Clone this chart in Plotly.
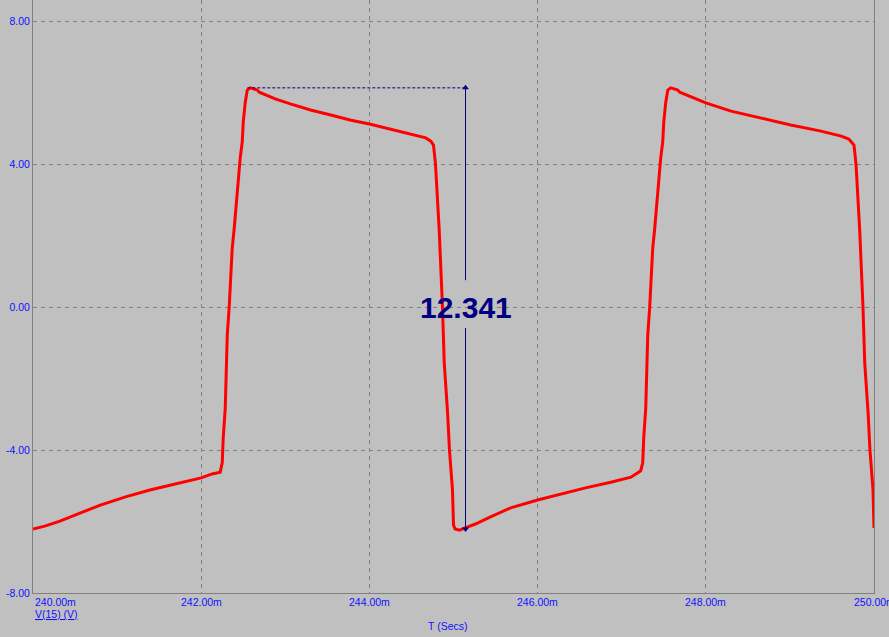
import plotly.graph_objects as go

# ---- data (time in ms, voltage in V) ----
t_ms = [240.00, 240.14, 240.32, 240.56, 240.80, 241.10, 241.39, 241.69, 242.00, 242.13,
        242.226, 242.25, 242.262, 242.286, 242.298, 242.31, 242.333, 242.357, 242.369,
        242.393, 242.417, 242.44, 242.464, 242.488, 242.50, 242.524, 242.548, 242.583,
        242.667, 242.69, 242.88, 243.06, 243.30, 243.54, 243.77, 244.00, 244.25, 244.49,
        244.67, 244.73, 244.762, 244.786, 244.81, 244.83, 244.869, 244.89, 244.93, 244.952,
        244.988, 245.00, 245.02, 245.07, 245.14, 245.26, 245.44, 245.68, 246.00, 246.27,
        246.57, 246.87, 247.11, 247.20,
        247.226, 247.25, 247.262, 247.286, 247.298, 247.31, 247.333, 247.357, 247.369,
        247.393, 247.417, 247.44, 247.464, 247.488, 247.50, 247.524, 247.548, 247.583,
        247.667, 247.69, 247.88, 248.00, 248.30, 248.65, 249.01, 249.37, 249.61, 249.70,
        249.762, 249.786, 249.81, 249.83, 249.869, 249.89, 249.93, 249.952, 249.988, 250.00]
v_volts = [-6.21, -6.13, -5.99, -5.76, -5.54, -5.31, -5.12, -4.95, -4.78, -4.67,
           -4.62, -4.36, -3.66, -2.83, -1.90, -0.78, 0.00, 0.90, 1.65,
           2.21, 2.94, 3.69, 4.17, 4.62, 5.17, 5.73, 6.07, 6.13,
           6.07, 6.01, 5.82, 5.68, 5.51, 5.37, 5.23, 5.12, 4.98, 4.84,
           4.73, 4.64, 4.53, 4.00, 3.08, 2.15, 0.00, -1.57, -2.97, -4.00,
           -5.12, -6.10, -6.21, -6.24, -6.18, -6.07, -5.87, -5.62, -5.40, -5.23,
           -5.06, -4.90, -4.76, -4.62,
           -4.58, -4.36, -3.66, -2.83, -1.90, -0.78, 0.00, 0.90, 1.65,
           2.21, 2.94, 3.69, 4.17, 4.62, 5.17, 5.73, 6.07, 6.13,
           6.07, 6.01, 5.82, 5.71, 5.48, 5.29, 5.09, 4.92, 4.78, 4.70,
           4.53, 4.00, 3.08, 2.15, 0.00, -1.57, -2.97, -4.00, -5.12, -6.18]

y_ticks = [-8, -4, 0, 4, 8]
y_tick_text = ["-8.00", "-4.00", "0.00", "4.00", "8.00"]
x_ticks = [240, 242, 244, 246, 248, 250]
x_tick_text = ["240.00m", "242.00m", "244.00m", "246.00m", "248.00m", "250.00m"]

trace_name = "V(15) (V)"
x_title = "T (Secs)"

# measurement cursor
meas_t_start = 242.548
meas_t = 245.143
meas_top = 6.13
meas_bottom = -6.211
meas_label = "12.341"
meas_gap = (-0.59, 0.75)

BG = "#C0C0C0"
GRID = "#808080"
NAVY = "#000080"
BLUE = "#1010FF"
FONT = "Liberation Sans, Arial, sans-serif"

fig = go.Figure()
fig.add_trace(go.Scatter(x=t_ms, y=v_volts, mode="lines",
                         line=dict(color="#FF0000", width=3), name=trace_name,
                         hoverinfo="skip", showlegend=False))

# arrowheads
fig.add_trace(go.Scatter(x=[meas_t], y=[meas_top], mode="markers",
                         marker=dict(symbol="triangle-up", size=6, color=NAVY),
                         showlegend=False, hoverinfo="skip"))
fig.add_trace(go.Scatter(x=[meas_t], y=[meas_bottom], mode="markers",
                         marker=dict(symbol="triangle-down", size=6, color=NAVY),
                         showlegend=False, hoverinfo="skip"))

# measurement lines
fig.add_shape(type="line", xref="x", yref="y", x0=meas_t_start, x1=meas_t,
              y0=meas_top, y1=meas_top, line=dict(color=NAVY, width=1, dash="3px,2px"))
fig.add_shape(type="line", xref="x", yref="y", x0=meas_t, x1=meas_t,
              y0=meas_gap[1], y1=meas_top, line=dict(color=NAVY, width=1))
fig.add_shape(type="line", xref="x", yref="y", x0=meas_t, x1=meas_t,
              y0=meas_bottom, y1=meas_gap[0], line=dict(color=NAVY, width=1))

annotations = [
    dict(x=meas_t, y=0, xref="x", yref="y", text="<b>%s</b>" % meas_label,
         showarrow=False, font=dict(family=FONT, size=30, color=NAVY),
         xanchor="center", yanchor="middle"),
]
for tv, tt in zip(x_ticks, x_tick_text):
    annotations.append(dict(x=tv, y=0, xref="x", yref="paper", text=tt, showarrow=False,
                            xanchor="left" if tv == x_ticks[0] else "center",
                            yanchor="top", yshift=-1,
                            font=dict(family=FONT, size=10.5, color=BLUE)))
annotations.append(dict(x=0, y=0, xref="paper", yref="paper", text="<u>%s</u>" % trace_name,
                        showarrow=False, xanchor="left", yanchor="middle", yshift=-21,
                        font=dict(family=FONT, size=10.5, color=BLUE)))
annotations.append(dict(x=(447 - 33) / 841, y=0, xref="paper", yref="paper", text=x_title,
                        showarrow=False, xanchor="center", yanchor="middle", yshift=-33,
                        font=dict(family=FONT, size=10.5, color=BLUE)))

fig.update_layout(
    width=889, height=637,
    margin=dict(l=33, r=15, t=0, b=44, pad=0, autoexpand=False),
    paper_bgcolor=BG, plot_bgcolor=BG,
    showlegend=False,
    annotations=annotations,
    xaxis=dict(range=[240, 250], tickvals=x_ticks, showticklabels=False, ticks="",
               showgrid=True, gridcolor=GRID, gridwidth=1, griddash="4px,4px",
               showline=True, linecolor=GRID, linewidth=1, zeroline=False,
               fixedrange=True, automargin=False),
    yaxis=dict(range=[-8, 8 + 21 / 35.75], tickvals=y_ticks, ticktext=y_tick_text,
               ticks="", tickfont=dict(family=FONT, size=10.5, color=BLUE),
               showgrid=True, gridcolor=GRID, gridwidth=1, griddash="4px,4px",
               showline=True, linecolor=GRID, linewidth=1, mirror=True,
               zeroline=False, fixedrange=True, automargin=False),
)

fig.write_html("out.html", config={"displayModeBar": False},
               post_script="document.body.style.margin='0';document.body.style.background='#C0C0C0';")
